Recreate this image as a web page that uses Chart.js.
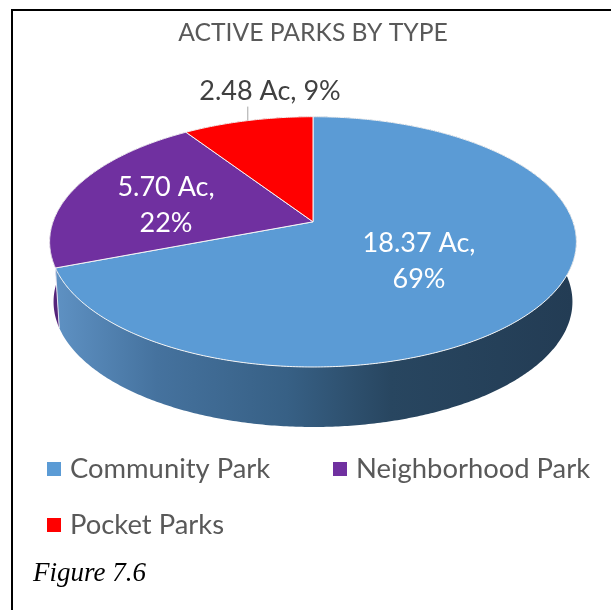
<!DOCTYPE html>
<html lang="en">
<head>
  <meta charset="UTF-8">
  <title>Active Parks by Type</title>
  <script src="https://cdn.jsdelivr.net/npm/chart.js"></script>
  <style>
    html, body { margin: 0; background: #fff; overflow: hidden; }
    #page { position: relative; width: 611px; height: 610px; overflow: hidden; }
    #chart { position: absolute; left: 0; top: 0; }
    #frame { position: absolute; left: 11px; top: 9px; width: 700px; height: 700px; border: 2px solid #000; }
    #caption { position: absolute; left: 33px; top: 557px; font: italic 27px "Liberation Serif", serif; color: #000; }
  </style>
</head>
<body>
  <div id="page">
    <div id="frame"></div>
    <canvas id="chart" width="611" height="610"></canvas>
    <div id="caption">Figure 7.6</div>
  </div>

  <script>
    const titleText = 'ACTIVE PARKS BY TYPE';
    const categories = ['Community Park', 'Neighborhood Park', 'Pocket Parks'];
    const acres = [18.37, 5.70, 2.48];
    const percents = [69, 22, 9];
    const sliceColors = ['#5B9BD5', '#7030A0', '#FF0000'];

    // label lines per slice
    const labelLines = [['18.37 Ac,', '69%'], ['5.70 Ac,', '22%'], ['2.48 Ac, 9%']];
    const labelColors = ['#FFFFFF', '#FFFFFF', '#404040'];
    const labelPlaces = [[419, 243], [166, 187], [270, 91]];
    const labelLineGap = 36;

    // legend layout
    const legendPlaces = [[47, 469], [333, 469], [47, 525]];

    // side wall shading, left to right
    const wallStops = [[0, '#5F92C4'], [0.2, '#45729E'], [0.45, '#376085'], [0.65, '#284660'], [1, '#233C54']];
    const wallPurple = '#55247A';
    const wallRed = '#A00000';

    // tilt of the pie top and depth of its side
    const tilt = -0.16;
    const squash = 0.469;
    const depth = 60;
    const bottomScale = 0.985;
    const uiFont = 'Lato, "Noto Sans", sans-serif';

    // Map an arc angle onto the tilted top face
    function topPoint(arc, angle) {
      const w = 1 + tilt * Math.sin(angle);
      return {
        x: arc.x + arc.outerRadius * Math.cos(angle) / w,
        y: arc.y + arc.outerRadius * squash * Math.sin(angle) / w
      };
    }

    function edgePoints(arc) {
      const pts = [];
      const steps = Math.ceil((arc.endAngle - arc.startAngle) / 0.01);
      for (let i = 0; i <= steps; i++) {
        pts.push(topPoint(arc, arc.startAngle + (arc.endAngle - arc.startAngle) * i / steps));
      }
      return pts;
    }

    function drawWall(ctx, arc, fill) {
      const pts = edgePoints(arc);
      ctx.beginPath();
      pts.forEach((p, i) => i ? ctx.lineTo(p.x, p.y) : ctx.moveTo(p.x, p.y));
      pts.reverse().forEach(p => ctx.lineTo(arc.x + (p.x - arc.x) * bottomScale, p.y + depth));
      ctx.closePath();
      ctx.fillStyle = fill;
      ctx.fill();
    }

    function drawTop(ctx, arc, fill) {
      ctx.beginPath();
      ctx.moveTo(arc.x, arc.y);
      edgePoints(arc).forEach(p => ctx.lineTo(p.x, p.y));
      ctx.closePath();
      ctx.fillStyle = fill;
      ctx.fill();
      ctx.strokeStyle = '#F4F4F4';
      ctx.lineWidth = 1;
      ctx.stroke();
    }

    // Draws the pie as a 3D disc from the arcs Chart.js has computed
    const discPlugin = {
      id: 'disc',
      beforeDatasetDraw(chart) {
        const ctx = chart.ctx;
        const arcs = chart.getDatasetMeta(0).data;
        const left = arcs[0].x - arcs[0].outerRadius;
        const right = arcs[0].x + arcs[0].outerRadius;
        const gradient = ctx.createLinearGradient(left, 0, right, 0);
        wallStops.forEach(s => gradient.addColorStop(s[0], s[1]));

        ctx.save();
        drawWall(ctx, arcs[1], wallPurple);
        drawWall(ctx, arcs[2], wallRed);
        drawWall(ctx, arcs[0], gradient);

        // pale seam where the two walls meet
        const seam = topPoint(arcs[0], arcs[0].endAngle);
        ctx.strokeStyle = '#E4E4F0';
        ctx.lineWidth = 1;
        ctx.beginPath();
        ctx.moveTo(seam.x, seam.y);
        ctx.lineTo(arcs[0].x + (seam.x - arcs[0].x) * bottomScale, seam.y + depth);
        ctx.stroke();

        arcs.forEach((arc, i) => drawTop(ctx, arc, sliceColors[i]));
        ctx.restore();
        return false;
      },
      afterDatasetsDraw(chart) {
        const ctx = chart.ctx;
        const arcs = chart.getDatasetMeta(0).data;
        ctx.save();

        // leader line of the outside label
        const pocket = arcs[2];
        const anchor = topPoint(pocket, (pocket.startAngle + pocket.endAngle) / 2);
        ctx.strokeStyle = '#A6A6A6';
        ctx.lineWidth = 1;
        ctx.beginPath();
        ctx.moveTo(anchor.x, anchor.y);
        ctx.lineTo(anchor.x, anchor.y - 14);
        ctx.stroke();

        // data labels
        ctx.font = '27px ' + uiFont;
        ctx.textAlign = 'center';
        ctx.textBaseline = 'middle';
        labelLines.forEach((lines, i) => {
          ctx.fillStyle = labelColors[i];
          lines.forEach((line, j) => {
            ctx.fillText(line, labelPlaces[i][0], labelPlaces[i][1] + j * labelLineGap);
          });
        });

        // legend
        ctx.font = '27.4px ' + uiFont;
        ctx.textAlign = 'left';
        categories.forEach((name, i) => {
          const [x, y] = legendPlaces[i];
          ctx.fillStyle = sliceColors[i];
          ctx.fillRect(x, y - 7, 14, 14);
          ctx.fillStyle = '#595959';
          ctx.fillText(name, x + 23, y);
        });
        ctx.restore();
      }
    };

    new Chart(document.getElementById('chart'), {
      type: 'pie',
      data: {
        labels: categories,
        datasets: [{ data: acres, backgroundColor: sliceColors, radius: 260 }]
      },
      options: {
        responsive: false,
        animation: false,
        layout: { padding: { left: 15, bottom: 214 } },
        plugins: {
          legend: { display: false },
          tooltip: { enabled: false },
          title: {
            display: true,
            text: titleText,
            color: '#595959',
            font: { family: uiFont, size: 24.7, weight: 'normal' },
            padding: { top: 18, bottom: 0 }
          }
        }
      },
      plugins: [discPlugin]
    });
  </script>
</body>
</html>
